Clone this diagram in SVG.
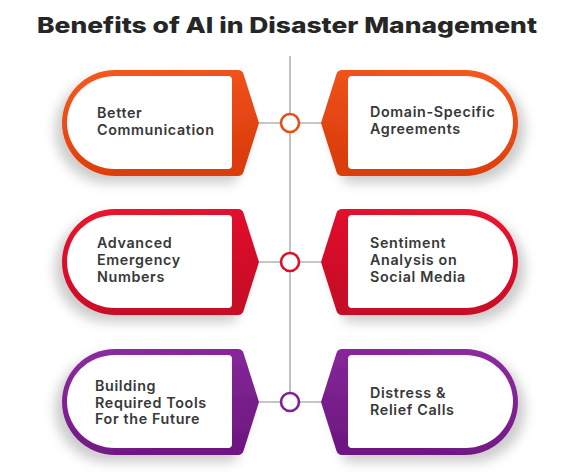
<svg xmlns="http://www.w3.org/2000/svg" width="575" height="472" viewBox="0 0 575 472">
<style>
.t{font-family:Inter,"Open Sans","Liberation Sans",sans-serif;font-weight:600;font-size:14.3px;letter-spacing:0.65px;fill:#383838}
.title{font-family:Inter,"Liberation Sans",sans-serif;font-weight:800;font-size:22px;fill:#262626}
.ln{stroke:#b3b3b3;stroke-width:1.6;fill:none}
.dot{fill:#fff;stroke-width:2.6}
.w{fill:#fff}
</style>
<defs>
<linearGradient id="gO" x1="0" y1="0" x2="0.3" y2="1"><stop offset="0" stop-color="#F55A20"/><stop offset="1" stop-color="#DC3D0C"/></linearGradient>
<linearGradient id="gR" x1="0" y1="0" x2="0.3" y2="1"><stop offset="0" stop-color="#EA1330"/><stop offset="1" stop-color="#C80D26"/></linearGradient>
<linearGradient id="gP" x1="0" y1="0" x2="0.3" y2="1"><stop offset="0" stop-color="#8E2CA0"/><stop offset="1" stop-color="#701983"/></linearGradient>
<filter id="shL" x="-20%" y="-20%" width="140%" height="150%"><feDropShadow dx="-7" dy="7" stdDeviation="6" flood-color="#000" flood-opacity="0.2"/></filter>
<path id="outL" d="M238 -53 Q242 -53 243.5 -49 L259 0 L243.5 49 Q242 53 238 53 L115 53 A53 53 0 0 1 115 -53 Z"/>
<path id="inL" d="M228 -47 Q232 -47 232 -43 L232 42 Q232 46 228 46 L115 46 A48 46.5 0 0 1 115 -47 Z"/>
</defs>

<text class="title" x="287" y="33" text-anchor="middle" textLength="500" lengthAdjust="spacingAndGlyphs">Benefits of AI in Disaster Management</text>

<g id="connectors">
<line class="ln" x1="290" y1="56" x2="290" y2="394"/>
<line class="ln" x1="258" y1="123" x2="322" y2="123"/>
<line class="ln" x1="258" y1="262" x2="322" y2="262"/>
<line class="ln" x1="258" y1="402" x2="322" y2="402"/>
<circle class="dot" cx="290" cy="123" r="9" stroke="#EE4A16"/>
<circle class="dot" cx="290" cy="262" r="9" stroke="#DE1029"/>
<circle class="dot" cx="290" cy="402" r="9" stroke="#7E2192"/>
</g>

<g id="node-better-communication" transform="translate(0,123)">
<use href="#outL" fill="url(#gO)" filter="url(#shL)"/>
<use href="#inL" class="w"/>
<text class="t" x="97" y="-5">Better</text>
<text class="t" x="97" y="12">Communication</text>
</g>

<g id="node-domain-specific" transform="translate(580,123) scale(-1,1)">
<use href="#outL" fill="url(#gO)" filter="url(#shL)"/>
<use href="#inL" class="w"/>
<g transform="scale(-1,1)">
<text class="t" x="-210" y="-6">Domain-Specific</text>
<text class="t" x="-210" y="11">Agreements</text>
</g>
</g>

<g id="node-advanced-emergency" transform="translate(0,262)">
<use href="#outL" fill="url(#gR)" filter="url(#shL)"/>
<use href="#inL" class="w"/>
<text class="t" x="97" y="-14">Advanced</text>
<text class="t" x="97" y="3">Emergency</text>
<text class="t" x="97" y="20">Numbers</text>
</g>

<g id="node-sentiment" transform="translate(580,262) scale(-1,1)">
<use href="#outL" fill="url(#gR)" filter="url(#shL)"/>
<use href="#inL" class="w"/>
<g transform="scale(-1,1)">
<text class="t" x="-210" y="-14">Sentiment</text>
<text class="t" x="-210" y="3">Analysis on</text>
<text class="t" x="-210" y="20">Social Media</text>
</g>
</g>

<g id="node-building-tools" transform="translate(0,402)">
<use href="#outL" fill="url(#gP)" filter="url(#shL)"/>
<use href="#inL" class="w"/>
<text class="t" x="95" y="-11">Building</text>
<text class="t" x="95" y="6">Required Tools</text>
<text class="t" x="95" y="22">For the Future</text>
</g>

<g id="node-distress" transform="translate(580,402) scale(-1,1)">
<use href="#outL" fill="url(#gP)" filter="url(#shL)"/>
<use href="#inL" class="w"/>
<g transform="scale(-1,1)">
<text class="t" x="-210" y="-4">Distress &amp;</text>
<text class="t" x="-210" y="13">Relief Calls</text>
</g>
</g>
</svg>
